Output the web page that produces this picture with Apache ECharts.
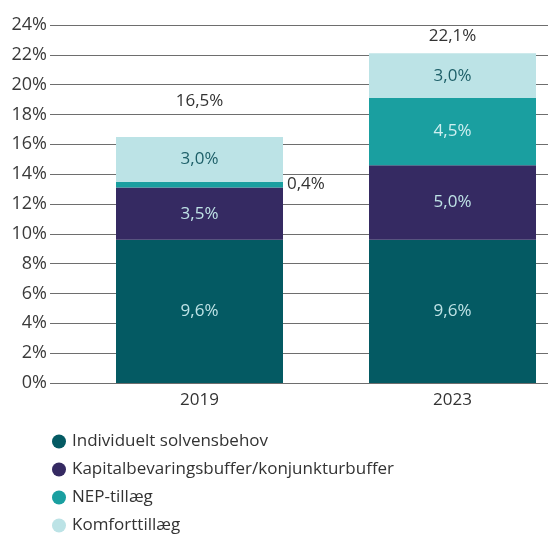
<!DOCTYPE html>
<html>
<head>
<meta charset="utf-8">
<script src="https://cdn.jsdelivr.net/npm/echarts@6/dist/echarts.min.js"></script>
<style>
  html, body { margin: 0; padding: 0; background: #fff; }
  #chart { width: 548px; height: 537px; }
</style>
</head>
<body>
<div id="chart"></div>
<script>
"use strict";

const years = ["2019", "2023"];
const seriesNames = [
  "Individuelt solvensbehov",
  "Kapitalbevaringsbuffer/konjunkturbuffer",
  "NEP-tillæg",
  "Komforttillæg",
];
const solvens = [9.6, 9.6];
const kapital = [3.5, 5.0];
const nep = [0.4, 4.5];
const komfort = [3.0, 3.0];
const totals = [16.5, 22.1];

const colors = ["#045a63", "#352a62", "#1a9fa0", "#bce3e6"];
const labelColors = ["#bfe3e6", "#bfe3e6", "#cfeff0", "#1d5f68"];

const font = "Open Sans";
const pct = (v) => v.toFixed(1).replace(".", ",") + "%";

const chart = echarts.init(document.getElementById("chart"));

// one grid carries the gridlines + y labels, the other the bars
const stackSeries = [solvens, kapital, nep, komfort].map((vals, i) => ({
  name: seriesNames[i],
  type: "bar",
  stack: "total",
  xAxisIndex: 1,
  yAxisIndex: 1,
  barWidth: 167,
  itemStyle: { color: colors[i] },
  label: {
    show: true,
    position: "inside",
    color: labelColors[i],
    fontFamily: font,
    fontSize: 17,
    formatter: (p) => pct(p.value),
  },
  data: vals.map((v, j) => {
    // the thin 2019 NEP slice puts its label beside the bar
    if (i === 2 && j === 0) {
      return {
        value: v,
        label: { position: "right", distance: 4, color: "#333" },
      };
    }
    return v;
  }),
}));

chart.setOption({
  animation: false,
  textStyle: { fontFamily: font },
  grid: [
    { left: 50, right: 0, top: 25, bottom: 154, outerBoundsMode: "none" },
    { left: 73, width: 506, top: 25, bottom: 154, outerBoundsMode: "none" },
  ],
  legend: {
    orient: "vertical",
    left: 47,
    top: 427,
    itemGap: 9,
    itemWidth: 14,
    itemHeight: 14,
    height: 140,
    icon: "circle",
    data: seriesNames,
    textStyle: {
      color: "#333",
      fontSize: 17,
      lineHeight: 19,
      fontFamily: font,
      padding: [0, 0, 0, 1],
    },
  },
  xAxis: [
    { type: "category", gridIndex: 0, data: years, show: false },
    {
      type: "category",
      gridIndex: 1,
      data: years,
      axisLine: { show: false },
      axisTick: { show: false },
      axisLabel: { color: "#333", fontSize: 17, margin: 9 },
    },
  ],
  yAxis: [
    {
      type: "value",
      gridIndex: 0,
      min: 0,
      max: 24,
      interval: 2,
      axisLine: { show: false },
      axisTick: { show: false },
      axisLabel: {
        color: "#3a3a3a",
        fontSize: 18,
        margin: 3,
        formatter: (v) => v + "%",
      },
      splitLine: { lineStyle: { color: "#6e6e6e", width: 1.2 } },
    },
    {
      type: "value",
      gridIndex: 1,
      min: 0,
      max: 24,
      interval: 2,
      show: false,
    },
  ],
  series: [
    ...stackSeries,
    {
      name: "Total",
      type: "scatter",
      xAxisIndex: 1,
      yAxisIndex: 1,
      symbolSize: 0,
      silent: true,
      itemStyle: { opacity: 1 },
      label: {
        show: true,
        position: "top",
        color: "#333",
        opacity: 1,
        fontSize: 17,
        formatter: (p) => pct(p.value),
      },
      data: [
        { value: totals[0], label: { distance: 27 } },
        { value: totals[1], label: { distance: 9 } },
      ],
    },
  ],
});
</script>
</body>
</html>
